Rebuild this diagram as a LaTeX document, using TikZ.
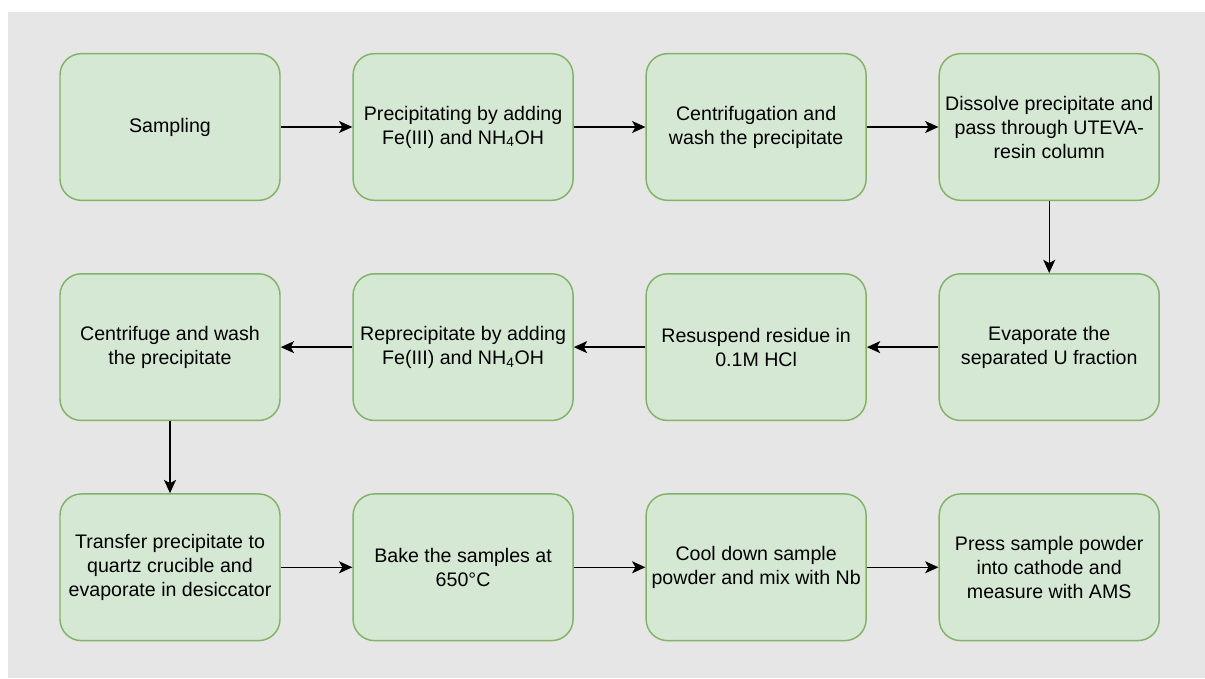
\documentclass[tikz,border=0pt]{standalone}
\usepackage{fontspec}
\setmainfont{Liberation Sans}
\usetikzlibrary{positioning,arrows.meta}
\definecolor{step fill}{HTML}{D5E8D4}
\definecolor{step line}{HTML}{82B366}
\definecolor{canvas}{HTML}{E6E6E6}

\begin{document}
\begin{tikzpicture}[
        x=0.75pt, y=-0.75pt,
        node distance=54pt and 53.7pt,
        stepbox/.style={
            draw=step line,
            fill=step fill,
            line width=1.1pt,
            rounded corners=16pt,
            minimum width=165pt,
            minimum height=110pt,
            inner xsep=2pt,
            align=center,
            font=\fontsize{14.7}{18}\selectfont
        },
        flow/.style={
            -{Stealth[length=10pt,width=9pt,inset=2.5pt]},
            line width=1pt
        }
    ]

    % canvas and margins
    \useasboundingbox (0,0) rectangle (1205,678);
    \fill[canvas] (8,12) rectangle (1205,678);

    % first row
    \node[stepbox] (sampling) at (170,127) {Sampling};
    \node[stepbox, right=of sampling] (precip) {Precipitating by adding\\Fe(III) and NH\textsubscript{4}OH};
    \node[stepbox, right=of precip] (centri) {Centrifugation and\\wash the precipitate};
    \node[stepbox, right=of centri] (dissolve) {Dissolve precipitate and\\pass through UTEVA-\\resin column};

    % second row, right to left
    \node[stepbox, below=of dissolve] (evap) {Evaporate the\\separated U fraction};
    \node[stepbox, left=of evap] (resusp) {Resuspend residue in\\0.1M HCl};
    \node[stepbox, left=of resusp] (reprecip) {Reprecipitate by adding\\Fe(III) and NH\textsubscript{4}OH};
    \node[stepbox, left=of reprecip] (wash) {Centrifuge and wash\\the precipitate};

    % third row
    \node[stepbox, below=of wash] (transfer) {Transfer precipitate to\\quartz crucible and\\evaporate in desiccator};
    \node[stepbox, right=of transfer] (bake) {Bake the samples at\\650°C};
    \node[stepbox, right=of bake] (cool) {Cool down sample\\powder and mix with Nb};
    \node[stepbox, right=of cool] (press) {Press sample powder\\into cathode and\\measure with AMS};

    \draw[flow] (sampling) -- (precip);
    \draw[flow] (precip) -- (centri);
    \draw[flow] (centri) -- (dissolve);
    \draw[flow] (dissolve) -- (evap);
    \draw[flow] (evap) -- (resusp);
    \draw[flow] (resusp) -- (reprecip);
    \draw[flow] (reprecip) -- (wash);
    \draw[flow] (wash) -- (transfer);
    \draw[flow] (transfer) -- (bake);
    \draw[flow] (bake) -- (cool);
    \draw[flow] (cool) -- (press);
\end{tikzpicture}
\end{document}
